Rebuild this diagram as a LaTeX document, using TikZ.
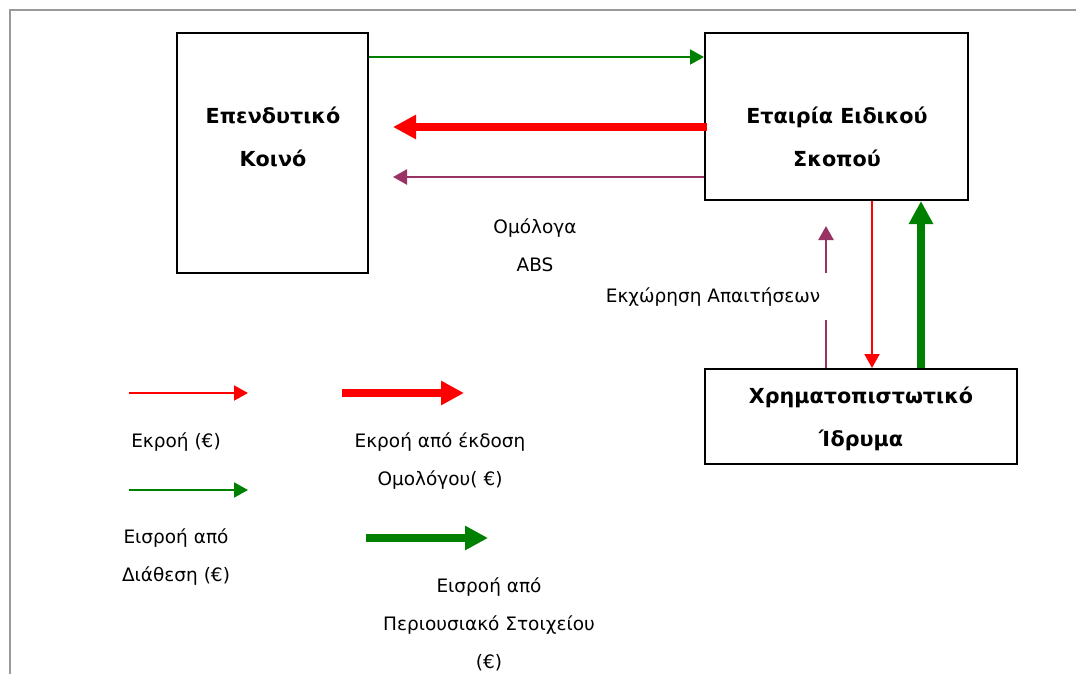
\documentclass[tikz,border=0pt]{standalone}
\usepackage{fontspec}
\setmainfont{DejaVu Sans}
\usetikzlibrary{arrows.meta}
\definecolor{flowred}{HTML}{FF0000}
\definecolor{flowgreen}{HTML}{008000}
\definecolor{flowpurple}{HTML}{993366}
\definecolor{framegray}{HTML}{999999}
\tikzset{
  box/.style={draw=black, line width=2pt, inner sep=0pt},
  boxtext/.style={font=\fontsize{20.7}{43}\selectfont\bfseries, align=center, inner sep=0pt},
  lbl/.style={font=\fontsize{18.5}{38}\selectfont, align=center, inner sep=0pt},
  thintip/.style={-{Triangle[length=14pt,width=15pt]}},
  thicktip/.style={-{Triangle[length=23pt,width=23pt]}},
  thinred/.style={draw=flowred, line width=2pt, thintip},
  thingreen/.style={draw=flowgreen, line width=2pt, thintip},
  thinpurple/.style={draw=flowpurple, line width=2.5pt, thintip},
  thickred/.style={draw=flowred, line width=8.5pt, thicktip},
  thickgreen/.style={draw=flowgreen, line width=8pt, thicktip},
}
\begin{document}
\begin{tikzpicture}[x=1pt, y=-1pt]
\useasboundingbox (0,0) rectangle (1076,674);
% frame
\draw[framegray, line width=2.5pt] (10,674) -- (10,10) -- (1076,10);

% boxes
\node[box, minimum width=191pt, minimum height=240pt] (A) at (272.5,153) {};
\node[box, minimum width=263pt, minimum height=167pt] (B) at (836.5,116.5) {};
\node[box, minimum width=312pt, minimum height=95pt] (C) at (861,416.5) {};

\node[boxtext] (Atxt) at (273,136.5) {Επενδυτικό\\Κοινό};
\node[boxtext] (Btxt) at (837,136.5) {Εταιρία Ειδικού\\Σκοπού};
\node[boxtext] (Ctxt) at (861,419) {Χρηματοπιστωτικό\\Ίδρυμα};

% connectors
\draw[thingreen] ([yshift=-25pt]A.north east) -- ([yshift=-25pt]B.north west);
\draw[thickred] ([xshift=3pt,yshift=-95pt]B.north west) -- ([yshift=-95pt]B.north west -| 393,0);
\draw[thinpurple] ([yshift=-145pt]B.north west) -- ([yshift=-145pt]B.north west -| 393,0);
\draw[thinred] ([xshift=168pt]B.south west) -- ([xshift=168pt]B.south west |- C.north);
\draw[thickgreen] ([xshift=217pt]C.north west) -- ([xshift=217pt]C.north west |- B.south);

\coordinate (p1) at (826,320);
\coordinate (p2) at (826,273);
\coordinate (p3) at (826,226);
\draw[flowpurple, line width=2.5pt] (C.north -| p1) -- (p1);
\draw[thinpurple] (p2) -- (p3);

\node[lbl] (assign) at (713,297) {Εκχώρηση Απαιτήσεων};
\node[lbl] (bonds) at (535,245) {Ομόλογα\\ABS};

% legend
\coordinate (l1a) at (129,393); \coordinate (l1b) at (248,393);
\coordinate (l2a) at (342,393); \coordinate (l2b) at (464,393);
\coordinate (l3a) at (129,490); \coordinate (l3b) at (248,490);
\coordinate (l4a) at (366,538); \coordinate (l4b) at (488,538);
\draw[thinred] (l1a) -- (l1b);
\draw[thickred] (l2a) -- (l2b);
\draw[thingreen] (l3a) -- (l3b);
\draw[thickgreen] (l4a) -- (l4b);

\node[lbl] (leg1) at (176,442) {Εκροή (€)};
\node[lbl] (leg2) at (440,461) {Εκροή από έκδοση\\Ομολόγου( €)};
\node[lbl] (leg3) at (176,557) {Εισροή από\\Διάθεση (€)};
\node[lbl] (leg4) at (489,624) {Εισροή από\\Περιουσιακό Στοιχείου\\(€)};
\end{tikzpicture}
\end{document}
